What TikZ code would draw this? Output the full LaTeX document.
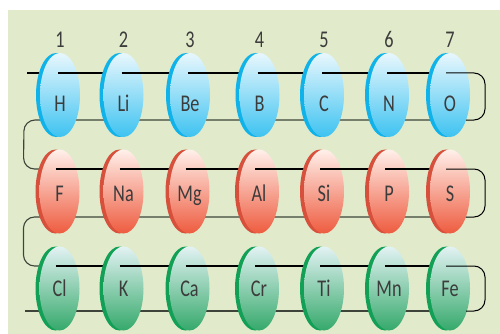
\documentclass[tikz,border=0pt]{standalone}
\usepackage{fontspec}
\setmainfont{Carlito}[FakeStretch=0.76]
\usetikzlibrary{shapes.geometric,shadows}
\definecolor{bg}{HTML}{E1EBCB}
\definecolor{txt}{HTML}{3C3C3C}
\definecolor{bluetop}{HTML}{E8F7FD}
\definecolor{bluemid}{HTML}{A6DFF6}
\definecolor{bluebot}{HTML}{3EC3F1}
\definecolor{bluedk}{HTML}{0FB2E9}
\definecolor{redtop}{HTML}{FFF0EA}
\definecolor{redmid}{HTML}{F7B09A}
\definecolor{redbot}{HTML}{EE5B3F}
\definecolor{reddk}{HTML}{D6503C}
\definecolor{greentop}{HTML}{E2F2F3}
\definecolor{greenmid}{HTML}{9DD3BC}
\definecolor{greenbot}{HTML}{35A96B}
\definecolor{greendk}{HTML}{11A055}
\definecolor{backline}{HTML}{3E443A}
\begin{document}
\begin{tikzpicture}[x=1pt,y=-1pt,
  bead/.style={ellipse, minimum width=40pt, minimum height=84pt, inner sep=0pt, draw=none},
  blueb/.style={bead, top color=bluetop, middle color=bluemid, bottom color=bluebot,
    copy shadow={shadow xshift=-4pt, shadow yshift=0pt, fill=bluedk, draw=none, opacity=1}},
  redb/.style={bead, top color=redtop, middle color=redmid, bottom color=redbot,
    copy shadow={shadow xshift=-4pt, shadow yshift=0pt, fill=reddk, draw=none, opacity=1}},
  greenb/.style={bead, top color=greentop, middle color=greenmid, bottom color=greenbot,
    copy shadow={shadow xshift=-4pt, shadow yshift=0pt, fill=greendk, draw=none, opacity=1}},
  elt/.style={font=\fontsize{24}{24}\selectfont, text=txt, anchor=base, inner sep=0pt},
  front/.style={line width=2.3pt, black},
  back/.style={line width=1.1pt, backline, rounded corners=11pt},
  turnwire/.style={line width=1pt, black, rounded corners=11pt}
]
\useasboundingbox (0,0) rectangle (500,334);
\fill[white] (0,0) rectangle (500,334);
\fill[bg] (8,10) rectangle (500,334);
% bead positions
\foreach \n/\x in {H/60,Li/123.5,Be/190,B/259.5,C/324,N/389,O/450}
  \coordinate (\n) at (\x,95);
\foreach \n/\x in {F/59.5,Na/123.5,Mg/189.5,Al/259,Si/324,P/389,S/450}
  \coordinate (\n) at (\x,191.5);
\foreach \n/\x in {Cl/59.5,K/123.5,Ca/189.5,Cr/259,Ti/324,Mn/389,Fe/450}
  \coordinate (\n) at (\x,288.5);
% back wire (behind beads)
\draw[back] ([xshift=16pt,yshift=-25pt]O) -- ([xshift=-36pt,yshift=-25pt]H)
  -- ([xshift=-36pt,yshift=22.5pt]F) -- ([xshift=-2pt,yshift=22.5pt]F);
\draw[back] ([xshift=16pt,yshift=-25.5pt]S) -- ([xshift=-36pt,yshift=-25.5pt]F)
  -- ([xshift=-36pt,yshift=22.5pt]Cl) -- ([xshift=-2pt,yshift=22.5pt]Cl);
\draw[back, rounded corners=0pt] ([xshift=16pt,yshift=-22.5pt]Fe) -- ([xshift=-35pt,yshift=-22.5pt]Cl);
\draw[front] ([xshift=-33pt,yshift=22pt]H) -- ([xshift=-2pt,yshift=22pt]H);
% numbers
\foreach \n/\t in {H/1,Li/2,Be/3,B/4,C/5,N/6,O/7}
  \node[elt] (num\t) at ([yshift=47pt]\n) {\t};
% row 1
\foreach \a/\b in {H/Li,Li/Be,Be/B,B/C,C/N,N/O}{
  \node[blueb] (b\a) at (\a) {};
  \node[elt] (t\a) at ([yshift=-16pt]\a) {\a};
  \draw[front] ([xshift=-2pt,yshift=22pt]\a) -- ([yshift=22pt]\b);
}
\node[blueb] (bO) at (O) {};
\node[elt] (tO) at ([yshift=-16pt]O) {O};
\draw[turnwire] ([xshift=-4pt,yshift=22pt]O) -- ([xshift=35pt,yshift=22pt]O)
  -- ([xshift=35pt,yshift=-25pt]O) -- ([xshift=16pt,yshift=-25pt]O);
% row 2
\foreach \a/\b in {F/Na,Na/Mg,Mg/Al,Al/Si,Si/P,P/S}{
  \node[redb] (b\a) at (\a) {};
  \node[elt] (t\a) at ([yshift=-9.5pt]\a) {\a};
  \draw[front] ([xshift=-4pt,yshift=22.5pt]\a) -- ([yshift=22.5pt]\b);
}
\node[redb] (bS) at (S) {};
\node[elt] (tS) at ([yshift=-9.5pt]S) {S};
\draw[turnwire] ([xshift=-4pt,yshift=22.5pt]S) -- ([xshift=35pt,yshift=22.5pt]S)
  -- ([xshift=35pt,yshift=-25.5pt]S) -- ([xshift=16pt,yshift=-25.5pt]S);
% row 3
\foreach \a/\b in {Cl/K,K/Ca,Ca/Cr,Cr/Ti,Ti/Mn,Mn/Fe}{
  \node[greenb] (b\a) at (\a) {};
  \node[elt] (t\a) at ([yshift=-7.5pt]\a) {\a};
  \draw[front] ([xshift=-4pt,yshift=22.5pt]\a) -- ([yshift=22.5pt]\b);
}
\node[greenb] (bFe) at (Fe) {};
\node[elt] (tFe) at ([yshift=-7.5pt]Fe) {Fe};
\draw[turnwire] ([xshift=-4pt,yshift=22.5pt]Fe) -- ([xshift=35pt,yshift=22.5pt]Fe)
  -- ([xshift=35pt,yshift=-22.5pt]Fe) -- ([xshift=16pt,yshift=-22.5pt]Fe);
\end{tikzpicture}
\end{document}
